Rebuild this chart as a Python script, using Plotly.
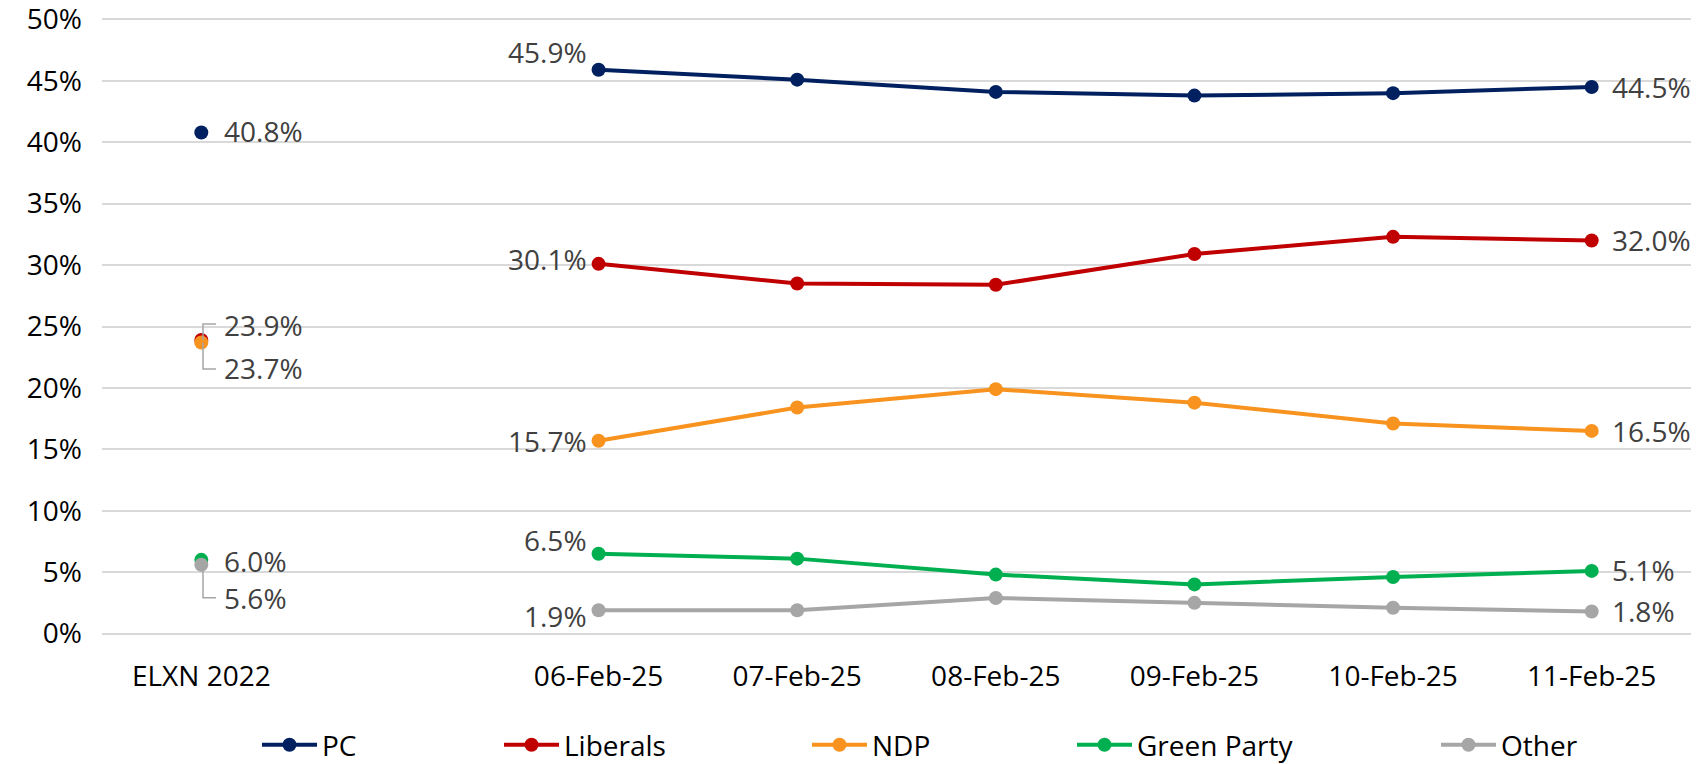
import plotly.graph_objects as go

categories = ["ELXN 2022", "", "06-Feb-25", "07-Feb-25", "08-Feb-25", "09-Feb-25", "10-Feb-25", "11-Feb-25"]
pc       = [40.8, None, 45.9, 45.1, 44.1, 43.8, 44.0, 44.5]
liberals = [23.9, None, 30.1, 28.5, 28.4, 30.9, 32.3, 32.0]
ndp      = [23.7, None, 15.7, 18.4, 19.9, 18.8, 17.1, 16.5]
green    = [6.0, None, 6.5, 6.1, 4.8, 4.0, 4.6, 5.1]
other    = [5.6, None, 1.9, 1.9, 2.9, 2.5, 2.1, 1.8]
y_ticks = [0, 5, 10, 15, 20, 25, 30, 35, 40, 45, 50]

series = [
    ("PC", pc, "#002060"),
    ("Liberals", liberals, "#C00000"),
    ("NDP", ndp, "#F7931E"),
    ("Green Party", green, "#00B050"),
    ("Other", other, "#A6A6A6"),
]

FONT = "Open Sans"
FS = 28
LABEL_COLOR = "#404040"
W, H = 1701, 764

# plot-area geometry (pixels) for 0% and 50%
Y0_PX, Y50_PX = 634, 19
PAD = 0.2
px_per_unit = (Y0_PX - Y50_PX) / 50.0
top_margin = Y50_PX - PAD * px_per_unit
bottom_margin = H - Y0_PX - PAD * px_per_unit

xpos = list(range(len(categories)))
tickvals = [i for i, c in enumerate(categories) if c]
ticktext = [c for c in categories if c]

fig = go.Figure()

legend_px = [257, 499, 807, 1072, 1436]
legend_names = ["legend", "legend2", "legend3", "legend4", "legend5"]

for i, (name, vals, col) in enumerate(series):
    fig.add_trace(go.Scatter(
        x=xpos, y=vals, name=name, mode="lines+markers",
        line=dict(color=col, width=4),
        marker=dict(color=col, size=14),
        connectgaps=False,
        legend=legend_names[i],
        hoverinfo="skip",
        cliponaxis=False,
    ))

elxn_shift = {"PC": 1.5, "Liberals": 15.5, "NDP": -26, "Green Party": -1.5, "Other": -33}
first_shift = {"PC": 18, "Liberals": 5, "NDP": -0.5, "Green Party": 13.5, "Other": -5.5}
last_shift = {"PC": 0.5, "Liberals": 0.5, "NDP": -0.5, "Green Party": 0.5, "Other": 0.5}

first_idx = 2
last_idx = len(categories) - 1
for name, vals, col in series:
    fig.add_annotation(x=xpos[0], y=vals[0], text=f"{vals[0]:.1f}%", showarrow=False,
                       xanchor="left", yanchor="middle", xshift=21, yshift=elxn_shift[name],
                       font=dict(family=FONT, size=FS, color=LABEL_COLOR))
    fig.add_annotation(x=xpos[first_idx], y=vals[first_idx], text=f"{vals[first_idx]:.1f}%", showarrow=False,
                       xanchor="right", yanchor="middle", xshift=-10, yshift=first_shift[name],
                       font=dict(family=FONT, size=FS, color=LABEL_COLOR))
    fig.add_annotation(x=xpos[last_idx], y=vals[last_idx], text=f"{vals[last_idx]:.1f}%", showarrow=False,
                       xanchor="left", yanchor="middle", xshift=18, yshift=last_shift[name],
                       font=dict(family=FONT, size=FS, color=LABEL_COLOR))

leaders = [(liberals[0], "M 1.7 0 V 16 H 14.7"),
           (ndp[0], "M 1.7 0 V -26.5 H 14.7"),
           (other[0], "M 1.7 0 V -33 H 14.7")]
for yv, path in leaders:
    fig.add_shape(type="path", xref="x", yref="y", xsizemode="pixel", ysizemode="pixel",
                  xanchor=xpos[0], yanchor=yv, path=path,
                  line=dict(color="#A6A6A6", width=1.5), layer="above")

legend_common = dict(orientation="h", yanchor="middle", xanchor="left",
                     xref="container", yref="container", y=(H - 745) / H,
                     font=dict(family=FONT, size=FS, color="#000000"),
                     bgcolor="rgba(0,0,0,0)", itemwidth=55, borderwidth=0,
                     tracegroupgap=0)
layout_legends = {}
for i, ln in enumerate(legend_names):
    layout_legends[ln] = dict(legend_common, x=(legend_px[i]) / W)

fig.update_layout(
    width=W, height=H,
    margin=dict(l=101.6, r=W - 1691, t=top_margin, b=bottom_margin, autoexpand=False),
    paper_bgcolor="white", plot_bgcolor="white",
    showlegend=True,
    font=dict(family=FONT, size=FS, color="#000000"),
    xaxis=dict(range=[-0.5, len(categories) - 0.5], tickmode="array", tickvals=tickvals, ticktext=ticktext,
               showgrid=False, zeroline=False, showline=False, ticks="", automargin=False,
               tickfont=dict(family=FONT, size=FS, color="#000000"), ticklabelstandoff=21),
    yaxis=dict(range=[-PAD, 50 + PAD], tickmode="array", tickvals=y_ticks, ticktext=[f"{v}%" for v in y_ticks],
               showgrid=True, gridcolor="#D9D9D9", gridwidth=1.5, zeroline=False, showline=False, ticks="",
               automargin=False, ticklabeloverflow="allow",
               tickfont=dict(family=FONT, size=FS, color="#000000"), ticklabelstandoff=19),
    **layout_legends,
)

fig.write_html("out.html", config={"displayModeBar": False},
               post_script="document.body.style.margin='0';document.body.style.overflow='hidden';")
